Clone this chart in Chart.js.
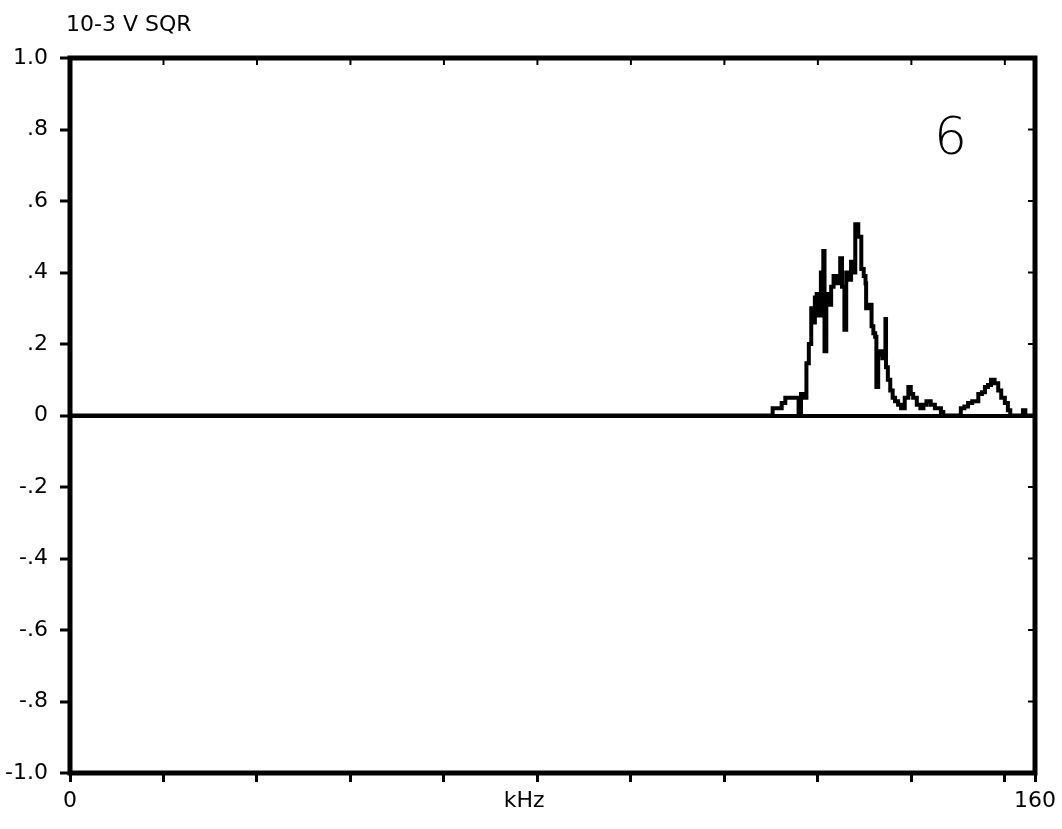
<!DOCTYPE html>
<html>

<head>
    <title>Spectrum 6</title>
    <script src="https://cdn.jsdelivr.net/npm/chart.js"></script>
    <style>
        body {
            margin: 0;
            background: #fff;
            font-family: "DejaVu Sans", sans-serif;
        }

        .wrap {
            position: relative;
            width: 1062px;
            height: 829px;
        }

        .unit {
            position: absolute;
            left: 66px;
            top: 13px;
            font-size: 22px;
            line-height: 1;
            color: #000;
        }

        .panel {
            position: absolute;
            left: 934px;
            top: 110px;
            font-family: "DejaVu Sans", sans-serif;
            font-weight: 300;
            font-size: 52px;
            line-height: 1;
            color: #000;
        }
    </style>
</head>

<body>
    <div class="wrap">
        <canvas id="spectrum"></canvas>
        <div class="unit">10-3 V SQR</div>
        <div class="panel">6</div>
    </div>

    <script>
        // frequency (kHz) and power (10-3 V sqr)
        const freqKHz = [0, 115.5, 116.5, 117.0, 118.0, 118.6, 120.4, 120.8, 121.2, 121.6,
            122.1, 122.5, 122.9, 123.2, 123.5, 123.8, 124.1, 124.5, 124.9, 125.1,
            125.4, 125.8, 126.2, 126.6, 127.0, 127.4, 127.7, 128.0, 128.4, 128.7,
            129.1, 129.5, 129.8, 130.2, 130.7, 131.2, 131.6, 131.9, 132.0, 132.4,
            132.9, 133.2, 133.5, 133.7, 134.0, 134.3, 134.7, 135.2, 135.3, 135.6,
            136.0, 136.4, 136.8, 137.3, 137.8, 138.4, 139.0, 139.4, 139.8, 140.4,
            141.0, 141.5, 142.0, 142.7, 143.4, 144.4, 144.8, 147.2, 147.7, 148.3,
            148.9, 149.6, 150.6, 151.2, 151.7, 152.2, 152.7, 153.3, 153.9, 154.4,
            155.0, 155.5, 155.9, 157.6, 158.0, 158.4, 160];
        const powerV2 = [0, 0, 0.02, 0.02, 0.035, 0.05, 0.05, 0.0, 0.06, 0.05,
            0.146, 0.2, 0.30, 0.26, 0.33, 0.34, 0.28, 0.40, 0.46, 0.18,
            0.34, 0.31, 0.36, 0.39, 0.37, 0.39, 0.44, 0.36, 0.24, 0.40,
            0.38, 0.43, 0.40, 0.535, 0.50, 0.41, 0.39, 0.37, 0.30, 0.31,
            0.25, 0.23, 0.22, 0.08, 0.17, 0.18, 0.16, 0.27, 0.135, 0.10,
            0.07, 0.05, 0.04, 0.03, 0.02, 0.05, 0.08, 0.06, 0.05, 0.03,
            0.02, 0.03, 0.04, 0.03, 0.02, 0.01, 0, 0, 0.02, 0.025,
            0.035, 0.04, 0.06, 0.065, 0.08, 0.085, 0.10, 0.09, 0.07, 0.05,
            0.035, 0.015, 0, 0, 0.015, 0, 0];

        // axis ticks
        const xTickValues = [0, 15.5, 31, 46.5, 62, 75.3, 77.5, 93, 108.5, 124, 139.5, 155, 160];
        const xTickLabels = ['0', '', '', '', '', 'kHz', '', '', '', '', '', '', '160'];
        const xTitlePos = 75.3;
        const yTickValues = [-1, -0.8, -0.6, -0.4, -0.2, 0, 0.2, 0.4, 0.6, 0.8, 1];
        const yTickLabels = ['-1.0', '-.8', '-.6', '-.4', '-.2', '0', '.2', '.4', '.6', '.8', '1.0'];

        const labelFont = { family: 'DejaVu Sans', size: 22 };

        // box round the plot plus the small inward ticks on top and right
        const frame = {
            id: 'frame',
            afterDraw(chart) {
                const { ctx, chartArea: a, scales } = chart;
                ctx.save();
                ctx.strokeStyle = '#000';
                ctx.lineWidth = 2;
                xTickValues.forEach(v => {
                    if (v === xTitlePos || v === 0 || v === 160) return;
                    const px = scales.x.getPixelForValue(v);
                    ctx.beginPath();
                    ctx.moveTo(px, a.top);
                    ctx.lineTo(px, a.top + 7);
                    ctx.stroke();
                });
                yTickValues.forEach(v => {
                    const py = scales.y.getPixelForValue(v);
                    ctx.beginPath();
                    ctx.moveTo(a.right, py);
                    ctx.lineTo(a.right - 7, py);
                    ctx.stroke();
                });
                ctx.lineWidth = 5;
                ctx.strokeRect(a.left, a.top, a.right - a.left, a.bottom - a.top);
                ctx.restore();
            }
        };

        new Chart(document.getElementById('spectrum'), {
            type: 'line',
            data: {
                datasets: [{
                    data: freqKHz.map((f, i) => ({ x: f, y: powerV2[i] })),
                    borderColor: '#000',
                    borderWidth: 4,
                    pointRadius: 0,
                    stepped: true,
                    fill: false,
                }],
            },
            options: {
                responsive: true,
                maintainAspectRatio: false,
                animation: false,
                layout: { padding: { left: 0, right: 25, top: 58, bottom: 0 } },
                plugins: {
                    legend: { display: false },
                    tooltip: { enabled: false },
                },
                scales: {
                    x: {
                        type: 'linear',
                        min: 0,
                        max: 160,
                        afterBuildTicks: s => { s.ticks = xTickValues.map(v => ({ value: v })); },
                        afterFit: s => { s.height = 56; },
                        border: { display: false },
                        grid: {
                            drawOnChartArea: false,
                            tickLength: 9,
                            tickWidth: 3,
                            tickColor: c => (c.tick && c.tick.value === xTitlePos) ? 'rgba(0,0,0,0)' : '#000',
                        },
                        ticks: {
                            autoSkip: false,
                            maxRotation: 0,
                            padding: 6,
                            color: '#000',
                            font: labelFont,
                            callback: (v, i) => xTickLabels[i],
                        },
                    },
                    y: {
                        min: -1,
                        max: 1,
                        afterBuildTicks: s => { s.ticks = yTickValues.map(v => ({ value: v })); },
                        afterFit: s => { s.width = 70; },
                        border: { display: false },
                        grid: {
                            drawOnChartArea: true,
                            color: c => (c.tick && c.tick.value === 0) ? '#000' : 'rgba(0,0,0,0)',
                            lineWidth: c => (c.tick && c.tick.value === 0) ? 4 : 0,
                            tickLength: 10,
                            tickWidth: 3,
                            tickColor: '#000',
                        },
                        ticks: {
                            padding: 12,
                            color: '#000',
                            font: labelFont,
                            callback: (v, i) => yTickLabels[i],
                        },
                    },
                },
            },
            plugins: [frame],
        });
    </script>
</body>

</html>
